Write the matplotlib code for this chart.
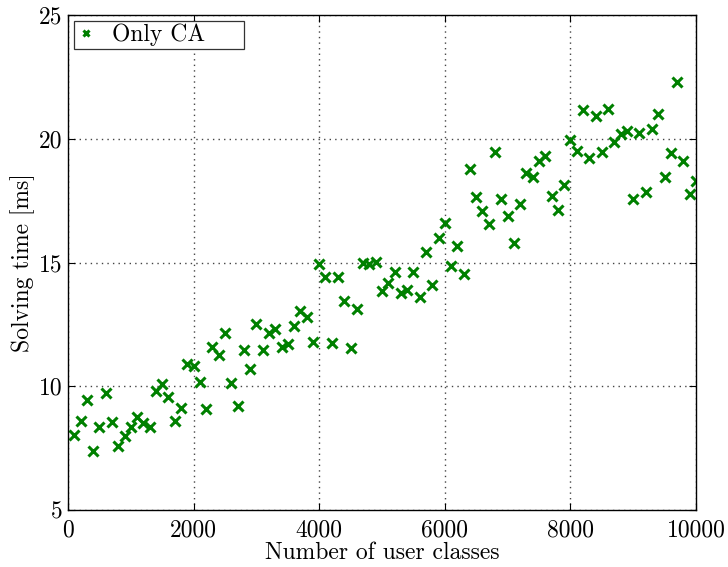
import matplotlib
matplotlib.use("Agg")
import matplotlib.pyplot as plt

user_classes = list(range(100, 10001, 100))
solving_time = [
    8.05, 8.6, 9.45, 7.4, 8.37, 9.73, 8.57, 7.6, 7.97, 8.37,
    8.77, 8.53, 8.37, 9.8, 10.1, 9.57, 8.6, 9.13, 10.9, 10.8,
    10.17, 9.1, 11.57, 11.25, 12.17, 10.15, 9.2, 11.45, 10.7, 12.5,
    11.45, 12.17, 12.3, 11.57, 11.7, 12.45, 13.05, 12.8, 11.78, 14.94,
    14.42, 11.73, 14.42, 13.45, 11.53, 13.14, 15.0, 14.94, 15.02, 13.86,
    14.18, 14.62, 13.78, 13.9, 14.62, 13.62, 15.42, 14.1, 15.98, 16.58,
    14.86, 15.66, 14.54, 18.79, 17.63, 17.1, 16.54, 19.47, 17.58, 16.86,
    15.78, 17.36, 18.63, 18.47, 19.1, 19.31, 17.7, 17.14, 18.15, 19.95,
    19.5, 21.15, 19.23, 20.9, 19.47, 21.2, 19.87, 20.19, 20.31, 17.58,
    20.23, 17.83, 20.39, 21.0, 18.47, 19.43, 22.29, 19.1, 17.75, 18.3,
]
x_ticks = [0, 2000, 4000, 6000, 8000, 10000]
y_ticks = [5, 10, 15, 20, 25]

plt.rcParams['font.family'] = ['cmr10', 'DejaVu Serif']
plt.rcParams['axes.unicode_minus'] = False
plt.rcParams['axes.formatter.use_mathtext'] = False

fig = plt.figure(figsize=(7.28, 5.67), dpi=100)
ax = fig.add_axes([68 / 728, 1 - 510 / 567, (696 - 68) / 728, (510 - 15) / 567])

ax.plot(user_classes, solving_time, linestyle='none', marker='x',
        color=(0, 0.5, 0), markersize=7, markeredgewidth=2.2, label='Only CA')

ax.set_xlim(0, 10000)
ax.set_ylim(5, 25)
ax.set_xticks(x_ticks)
ax.set_yticks(y_ticks)
ax.set_xticklabels([str(t) for t in x_ticks])
ax.set_yticklabels([str(t) for t in y_ticks])
ax.tick_params(direction='in', top=True, right=True, length=5, width=0.8,
               labelsize=17, colors='black')
ax.tick_params(axis='x', pad=7)
ax.tick_params(axis='y', pad=4)
ax.grid(True, linestyle=(0, (1, 3)), color='#444444', linewidth=1.0)
for s in ax.spines.values():
    s.set_linewidth(1.0)
    s.set_color('black')

ax.set_xlabel('Number of user classes', fontsize=17, labelpad=0)
ax.set_ylabel('Solving time [ms]', fontsize=17, labelpad=3)

leg = ax.legend(loc='upper left', fontsize=17, frameon=True, fancybox=False,
                framealpha=1, edgecolor='#333333', handlelength=0.8,
                handletextpad=0.7, borderpad=0.12, borderaxespad=0.25,
                markerscale=0.7)
leg.get_frame().set_linewidth(0.9)
for t in leg.get_texts():
    t.set_text('Only CA' + '\u2003\u2002')

fig.savefig('out.png', dpi=100, facecolor='white')
